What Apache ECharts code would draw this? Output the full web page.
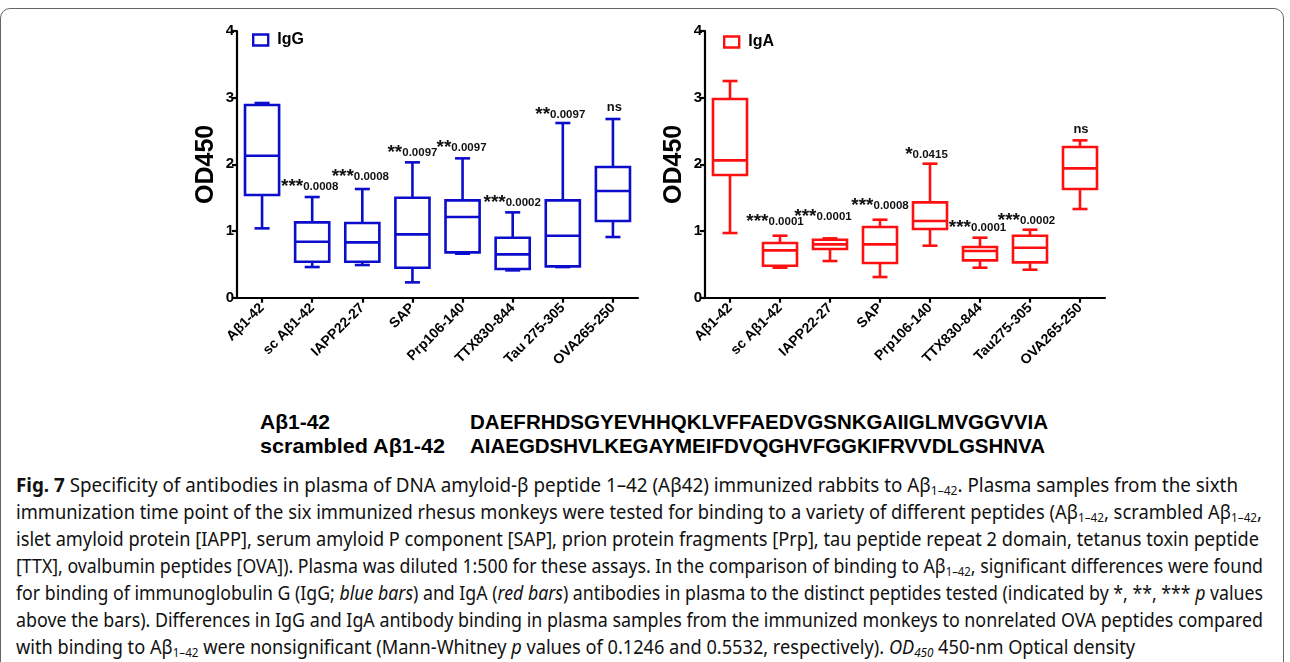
<!DOCTYPE html>
<html>
<head>
<meta charset="utf-8">
<script src="https://cdn.jsdelivr.net/npm/echarts@6/dist/echarts.min.js"></script>
<style>
  html, body { margin: 0; padding: 0; background: #fff; }
  #page { position: relative; width: 1290px; height: 662px; overflow: hidden; background: #fff; }
  #frame { position: absolute; left: 0; top: 8px; width: 1284px; height: 700px; border: 1px solid #666; border-radius: 10px; box-sizing: border-box; }
  #chart { position: absolute; left: 0; top: 0; width: 1290px; height: 400px; }
  .fit { position: absolute; white-space: nowrap; transform-origin: 0 50%; }
  .seq { font-family: "Liberation Sans", Arial, sans-serif; font-weight: bold; font-size: 21px; color: #000; line-height: 24px; }
  .cap { font-family: "Noto Sans", "Open Sans", sans-serif; font-size: 19.5px; color: #111; line-height: 27px; left: 16px; }
  .cap sub { font-size: 12.5px; line-height: 0; vertical-align: -3px; }
  .cap b { font-weight: bold; }
</style>
</head>
<body>
<div id="page">
  <div id="frame"></div>
  <div id="chart"></div>

  <div class="fit seq" style="left:260px; top:410px;" data-w="70">Aβ1-42</div>
  <div class="fit seq" style="left:470px; top:410px;" data-w="578">DAEFRHDSGYEVHHQKLVFFAEDVGSNKGAIIGLMVGGVVIA</div>
  <div class="fit seq" style="left:260px; top:434px;" data-w="185">scrambled Aβ1-42</div>
  <div class="fit seq" style="left:470px; top:434px;" data-w="575">AIAEGDSHVLKEGAYMEIFDVQGHVFGGKIFRVVDLGSHNVA</div>

  <div class="fit cap" style="top:471px;" data-w="1222"><b>Fig. 7</b> Specificity of antibodies in plasma of DNA amyloid-β peptide 1–42 (Aβ42) immunized rabbits to Aβ<sub>1–42</sub>. Plasma samples from the sixth</div>
  <div class="fit cap" style="top:498px;" data-w="1246">immunization time point of the six immunized rhesus monkeys were tested for binding to a variety of different peptides (Aβ<sub>1–42</sub>, scrambled Aβ<sub>1–42</sub>,</div>
  <div class="fit cap" style="top:525px;" data-w="1243">islet amyloid protein [IAPP], serum amyloid P component [SAP], prion protein fragments [Prp], tau peptide repeat 2 domain, tetanus toxin peptide</div>
  <div class="fit cap" style="top:552px;" data-w="1247">[TTX], ovalbumin peptides [OVA]). Plasma was diluted 1:500 for these assays. In the comparison of binding to Aβ<sub>1–42</sub>, significant differences were found</div>
  <div class="fit cap" style="top:579px;" data-w="1247">for binding of immunoglobulin G (IgG; <i>blue bars</i>) and IgA (<i>red bars</i>) antibodies in plasma to the distinct peptides tested (indicated by *, **, *** <i>p</i> values</div>
  <div class="fit cap" style="top:606px;" data-w="1247">above the bars). Differences in IgG and IgA antibody binding in plasma samples from the immunized monkeys to nonrelated OVA peptides compared</div>
  <div class="fit cap" style="top:633px;" data-w="1119">with binding to Aβ<sub>1–42</sub> were nonsignificant (Mann-Whitney <i>p</i> values of 0.1246 and 0.5532, respectively). <i>OD<sub>450</sub></i> 450-nm Optical density</div>
</div>

<script>
// Peptide categories on each panel
const categoriesIgG = ['Aβ1-42', 'sc Aβ1-42', 'IAPP22-27', 'SAP', 'Prp106-140', 'TTX830-844', 'Tau 275-305', 'OVA265-250'];
const categoriesIgA = ['Aβ1-42', 'sc Aβ1-42', 'IAPP22-27', 'SAP', 'Prp106-140', 'TTX830-844', 'Tau275-305', 'OVA265-250'];

// IgG OD450 box statistics (min, Q1, median, Q3, max)
const iggMin    = [1.04, 0.46, 0.49, 0.23, 0.66, 0.41, 0.46, 0.91];
const iggQ1     = [1.54, 0.54, 0.54, 0.45, 0.68, 0.43, 0.47, 1.15];
const iggMedian = [2.13, 0.84, 0.83, 0.95, 1.21, 0.65, 0.93, 1.60];
const iggQ3     = [2.89, 1.13, 1.12, 1.50, 1.46, 0.90, 1.46, 1.96];
const iggMax    = [2.92, 1.51, 1.63, 2.03, 2.09, 1.28, 2.62, 2.68];

// IgA OD450 box statistics
const igaMin    = [0.97, 0.45, 0.55, 0.31, 0.78, 0.45, 0.42, 1.33];
const igaQ1     = [1.84, 0.48, 0.73, 0.52, 1.03, 0.56, 0.53, 1.63];
const igaMedian = [2.06, 0.71, 0.80, 0.80, 1.15, 0.70, 0.75, 1.94];
const igaQ3     = [2.98, 0.82, 0.87, 1.06, 1.43, 0.76, 0.93, 2.26];
const igaMax    = [3.25, 0.93, 0.89, 1.17, 2.01, 0.90, 1.02, 2.36];

// Significance versus Aβ1-42 (Mann-Whitney)
const iggStars  = ['', '***', '***', '**', '**', '***', '**', 'ns'];
const iggP      = ['', '0.0008', '0.0008', '0.0097', '0.0097', '0.0002', '0.0097', ''];
const igaStars  = ['', '***', '***', '***', '*', '***', '***', 'ns'];
const igaP      = ['', '0.0001', '0.0001', '0.0008', '0.0415', '0.0001', '0.0002', ''];

const yTicks = [0, 1, 2, 3, 4];

// Placement of the significance notes: pixels above the upper whisker, and sideways shift
const iggNoteLift  = [0, 10.5, 12.5, 10, 11, 10, 8.5, 12];
const iggNoteShift = [0, -2.5, -2, 0, -1, -0.5, -2.5, 1.5];
const igaNoteLift  = [0, 14, 21.5, 13.5, 9, 9.5, 9, 10.5];
const igaNoteShift = [0, -5, -7, 0, -3.5, -2.5, -3.5, 1];

const BLUE = '#0c0ccc';
const RED = '#ff1010';
const FONT = '"Liberation Sans", Arial, sans-serif';

function boxSeries(name, axis, color, mins, q1s, meds, q3s, maxs, stars, pvals, lift, shift) {
  const data = mins.map((v, i) => [i, v, q1s[i], meds[i], q3s[i], maxs[i]]);
  return {
    type: 'custom',
    name: name,
    xAxisIndex: axis,
    yAxisIndex: axis,
    itemStyle: { color: color },
    encode: { x: 0, y: [1, 2, 3, 4, 5] },
    data: data,
    renderItem: function (params, api) {
      const i = api.value(0);
      const cx = api.coord([i, 0])[0];
      const py = k => api.coord([i, api.value(k)])[1];
      const yLo = py(1), yQ1 = py(2), yMd = py(3), yQ3 = py(4), yHi = py(5);
      const band = api.size([1, 0])[0];
      const bw = band * 0.68;
      const cw = band * 0.3;
      const st = { stroke: color, lineWidth: 2.6, fill: 'none' };
      const children = [
        { type: 'line', shape: { x1: cx, y1: yHi, x2: cx, y2: yQ3 }, style: st },
        { type: 'line', shape: { x1: cx, y1: yQ1, x2: cx, y2: yLo }, style: st },
        { type: 'line', shape: { x1: cx - cw / 2, y1: yHi, x2: cx + cw / 2, y2: yHi }, style: st },
        { type: 'line', shape: { x1: cx - cw / 2, y1: yLo, x2: cx + cw / 2, y2: yLo }, style: st },
        { type: 'rect', shape: { x: cx - bw / 2, y: yQ3, width: bw, height: yQ1 - yQ3 }, style: st },
        { type: 'line', shape: { x1: cx - bw / 2, y1: yMd, x2: cx + bw / 2, y2: yMd }, style: st }
      ];
      const mark = stars[i];
      if (mark) {
        const txt = mark === 'ns' ? '{ns|ns}' : '{s|' + mark + '}{n|' + pvals[i] + '}';
        children.push({
          type: 'text',
          style: {
            text: txt,
            x: cx + shift[i],
            y: yHi - lift[i],
            align: 'center',
            verticalAlign: 'middle',
            rich: {
              s: { fontFamily: FONT, fontWeight: 'bold', fontSize: 19, lineHeight: 20, fill: '#111' },
              n: { fontFamily: FONT, fontWeight: 'bold', fontSize: 11.5, lineHeight: 20, fill: '#111' },
              ns: { fontFamily: FONT, fontWeight: 'bold', fontSize: 13, lineHeight: 20, fill: '#111' }
            }
          }
        });
      }
      return { type: 'group', children: children };
    }
  };
}

function xAxisOf(idx, cats) {
  return {
    type: 'category', gridIndex: idx, data: cats, boundaryGap: true,
    axisLine: { lineStyle: { color: '#000', width: 2.2 } },
    axisTick: { show: true, alignWithLabel: true, length: 5, lineStyle: { color: '#000', width: 2.2 } },
    axisLabel: { rotate: 45, interval: 0, margin: 8, color: '#000', fontFamily: FONT, fontWeight: 'bold', fontSize: 14 }
  };
}

function yAxisOf(idx) {
  return {
    type: 'value', gridIndex: idx, min: yTicks[0], max: yTicks[yTicks.length - 1], interval: 1,
    name: 'OD450', nameLocation: 'middle', nameGap: 18, nameRotate: 90,
    nameTextStyle: { color: '#000', fontFamily: FONT, fontWeight: 'bold', fontSize: 25 },
    splitLine: { show: false },
    axisLine: { show: true, lineStyle: { color: '#000', width: 2.2 } },
    axisTick: { show: true, length: 5, lineStyle: { color: '#000', width: 2.2 } },
    axisLabel: { margin: 3, color: '#000', fontFamily: FONT, fontWeight: 'bold', fontSize: 15 }
  };
}

function legendOf(name, color, left, top) {
  const text = { color: '#000', fontFamily: FONT, fontWeight: 'bold', fontSize: 16, padding: [0, 0, 0, 4] };
  return {
    data: [{ name: name, icon: 'rect', itemStyle: { color: '#fff', borderColor: color, borderWidth: 2.4 }, textStyle: text }],
    left: left, top: top, padding: 0, itemWidth: 15, itemHeight: 11, itemGap: 8,
    selectedMode: false,
    textStyle: text
  };
}

const chart = echarts.init(document.getElementById('chart'), null, { renderer: 'canvas' });
chart.setOption({
  animation: false,
  backgroundColor: 'transparent',
  grid: [
    { left: 237, top: 31, width: 401, height: 266.7 },
    { left: 705, top: 31, width: 400, height: 266.7 }
  ],
  legend: [legendOf('IgG', BLUE, 252, 32), legendOf('IgA', RED, 723, 34)],
  xAxis: [xAxisOf(0, categoriesIgG), xAxisOf(1, categoriesIgA)],
  yAxis: [yAxisOf(0), yAxisOf(1)],
  series: [
    boxSeries('IgG', 0, BLUE, iggMin, iggQ1, iggMedian, iggQ3, iggMax, iggStars, iggP, iggNoteLift, iggNoteShift),
    boxSeries('IgA', 1, RED, igaMin, igaQ1, igaMedian, igaQ3, igaMax, igaStars, igaP, igaNoteLift, igaNoteShift)
  ]
});

// Stretch each text line to its set width
document.querySelectorAll('.fit').forEach(el => {
  const w = el.getBoundingClientRect().width;
  const target = parseFloat(el.dataset.w);
  if (w > 0) el.style.transform = 'scaleX(' + (target / w) + ')';
});
</script>
</body>
</html>
